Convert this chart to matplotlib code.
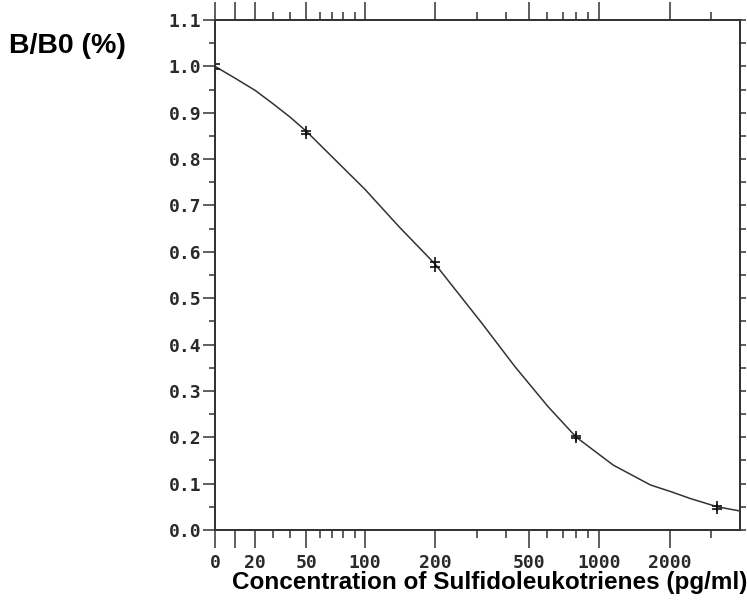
"""B/B0 standard curve for the sulfidoleukotriene assay."""
import numpy as np
import matplotlib.pyplot as plt

# ------------------------------------------------------------------
# data
# ------------------------------------------------------------------
std_conc = [0, 0, 50, 50, 200, 200, 800, 800, 3200, 3200]
std_bb0 = [1.005, 0.995, 0.860, 0.855, 0.578, 0.567, 0.202, 0.198, 0.052, 0.046]

curve_conc = [0, 10, 20, 30, 40, 50, 70, 100, 140, 200, 316, 438, 606,
              800, 1150, 1660, 2020, 2450, 3200, 4000]
curve_bb0 = [1.0, 0.975, 0.948, 0.92, 0.89, 0.86, 0.805, 0.735, 0.654, 0.573,
             0.446, 0.352, 0.266, 0.200, 0.140, 0.097, 0.083, 0.068, 0.050, 0.041]

x_major = [0, 10, 20, 50, 100, 200, 500, 1000, 2000]
x_labels = ['0', '', '20', '50', '100', '200', '500', '1000', '2000']
x_minor = [30, 40, 60, 70, 80, 90, 300, 400, 600, 700, 800, 900, 3000]

# axis is log above 100, compressed "log-like" below (instrument printout)
LOW_VALS = [0, 10, 20, 30, 40, 50, 60, 70, 80, 90, 100]
LOW_POS = [-0.64, -0.556, -0.468, -0.394, -0.318, -0.25, -0.193, -0.14,
           -0.092, -0.044, 0.0]


def fwd(x):
    x = np.asarray(x, dtype=float)
    hi = np.log10(np.maximum(x, 100.0)) - 2.0
    lo = np.interp(x, LOW_VALS, LOW_POS)
    return np.where(x >= 100, hi, lo)


def inv(y):
    y = np.asarray(y, dtype=float)
    hi = 10 ** (np.clip(y, 0, 6) + 2.0)
    lo = np.interp(y, LOW_POS, LOW_VALS)
    return np.where(y >= 0, hi, lo)


mono = 'DejaVu Sans Mono'
tick_color = '#2a2a2a'

fig = plt.figure(figsize=(7.47, 6.01), dpi=100)
ax = fig.add_axes([215 / 747, 1 - 530 / 601, 525 / 747, 510 / 601])

ax.set_xscale('function', functions=(fwd, inv))
ax.set_xlim(0, 4000)
ax.set_ylim(0, 1.1)

ax.plot(curve_conc, curve_bb0, color='#333333', linewidth=1.1, zorder=2)
ax.plot(std_conc, std_bb0, linestyle='none', marker='+', markersize=7,
        markeredgewidth=1.2, color='#111111', zorder=3)

ax.set_xticks(x_major)
ax.set_xticklabels(x_labels)
ax.set_xticks(x_minor, minor=True)
ax.set_xticklabels([], minor=True)
ax.set_yticks(np.round(np.arange(0, 1.11, 0.1), 2))
ax.set_yticklabels([f'{v:.1f}' for v in np.arange(0, 1.11, 0.1)])
ax.set_yticks(np.round(np.arange(0.05, 1.1, 0.1), 2), minor=True)

for lab in ax.get_xticklabels() + ax.get_yticklabels():
    lab.set_fontfamily(mono)
    lab.set_fontsize(13)
    lab.set_fontweight('bold')
    lab.set_color(tick_color)

ax.tick_params(axis='x', which='both', direction='out', top=True,
               bottom=True, width=1.1, color='#333333', pad=4)
ax.tick_params(axis='x', which='major', length=13)
ax.tick_params(axis='x', which='minor', length=6)
ax.tick_params(axis='y', which='major', direction='out', length=9,
               width=1.1, color='#333333', pad=1)
ax.tick_params(axis='y', which='minor', direction='out', length=4,
               width=1.1, color='#333333')

# right-hand ticks are all short
axr = ax.twinx()
axr.set_ylim(0, 1.1)
axr.set_yticks(np.round(np.arange(0, 1.11, 0.05), 2))
axr.tick_params(axis='y', direction='out', length=4, width=1.1,
                color='#333333', labelright=False)

for a in (ax, axr):
    for sp in a.spines.values():
        sp.set_linewidth(1.3)
        sp.set_color('#333333')

fig.text(9 / 747, 1 - 46 / 601, 'B/B0 (%)', fontsize=20.5, fontweight='bold',
         family='Liberation Sans', ha='left', va='center')
fig.text(232 / 747, 1 - 582 / 601,
         'Concentration of Sulfidoleukotrienes (pg/ml)', fontsize=17.5,
         fontweight='bold', family='Liberation Sans', ha='left', va='center')

fig.savefig('out.png', dpi=100)
